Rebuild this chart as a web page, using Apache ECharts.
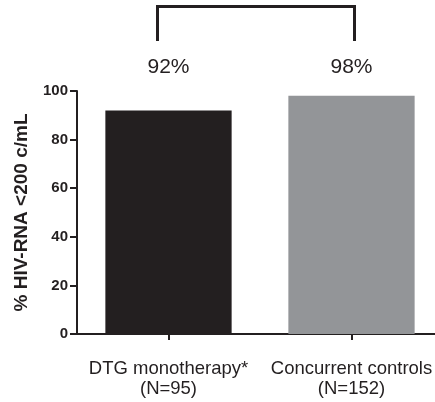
<!DOCTYPE html>
<html>
<head>
<meta charset="utf-8">
<script src="https://cdn.jsdelivr.net/npm/echarts@6/dist/echarts.min.js"></script>
<style>
html,body{margin:0;padding:0;background:#fff;}
#c{width:435px;height:402px;}
</style>
</head>
<body>
<div id="c"></div>
<script>
var categories = ['DTG monotherapy*\n(N=95)', 'Concurrent controls\n(N=152)'];
var values = [92, 98];
var barColors = ['#231f20', '#939598'];
var yTicks = [0, 20, 40, 60, 80, 100];
var yName = '% HIV-RNA <200 c/mL';

var chart = echarts.init(document.getElementById('c'));
var option = {
  animation: false,
  grid: {left: 77, top: 91, height: 243, width: 366, outerBoundsMode: 'none', containLabel: false},
  xAxis: {
    type: 'category',
    data: categories,
    axisLine: {lineStyle: {color: '#231f20', width: 2}},
    axisTick: {show: true, alignWithLabel: true, length: 6, lineStyle: {color: '#231f20', width: 2}},
    axisLabel: {color: '#231f20', fontFamily: 'Liberation Sans, Arial', fontSize: 18.5, lineHeight: 20, margin: 25, interval: 0, hideOverlap: false}
  },
  yAxis: {
    type: 'value',
    min: yTicks[0], max: yTicks[yTicks.length - 1], interval: 20,
    name: yName,
    nameLocation: 'middle',
    nameGap: 46,
    nameRotate: 90,
    nameTextStyle: {color: '#231f20', fontFamily: 'Liberation Sans, Arial', fontWeight: 'bold', fontSize: 19},
    axisLine: {show: true, lineStyle: {color: '#231f20', width: 2}},
    axisTick: {show: true, length: 7, lineStyle: {color: '#231f20', width: 2}},
    axisLabel: {color: '#231f20', fontFamily: 'Liberation Sans, Arial', fontWeight: 'bold', fontSize: 15, margin: 9},
    splitLine: {show: false}
  },
  series: [{
    type: 'bar',
    barWidth: '69%',
    data: values.map(function (v, i) { return {value: v, itemStyle: {color: barColors[i]}}; })
  }]
};
chart.setOption(option);

function drawAnnotations() {
  var p0 = chart.convertToPixel({gridIndex: 0}, [0, 0]);
  var p1 = chart.convertToPixel({gridIndex: 0}, [1, 0]);
  var x0 = p0[0] - 11, x1 = p1[0] + 3;
  var elements = [{
    type: 'polyline',
    shape: {points: [[x0, 41], [x0, 6.5], [x1, 6.5], [x1, 41]]},
    style: {stroke: '#231f20', lineWidth: 3, fill: null}
  }];
  values.forEach(function (v, i) {
    var p = chart.convertToPixel({gridIndex: 0}, [i, 0]);
    elements.push({
      type: 'text',
      x: p[0], y: 67,
      style: {text: v + '%', fill: '#231f20', font: '21px "Liberation Sans", Arial', textAlign: 'center', textVerticalAlign: 'middle'}
    });
  });
  chart.setOption({graphic: {elements: elements}});
}
drawAnnotations();
</script>
</body>
</html>
